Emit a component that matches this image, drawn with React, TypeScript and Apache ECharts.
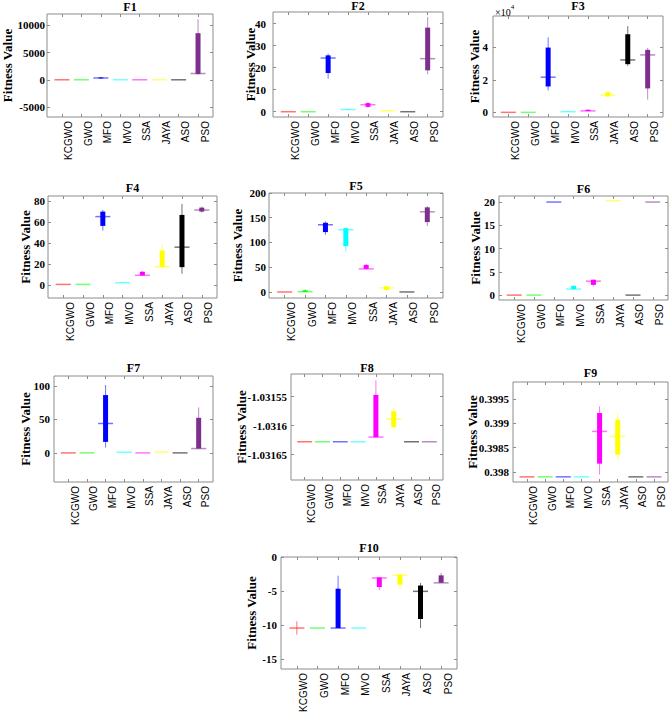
import React, { useEffect, useRef } from "react";
import * as echarts from "echarts";

const categories = ["KCGWO", "GWO", "MFO", "MVO", "SSA", "JAYA", "ASO", "PSO"];
const colors = ["#ff0000", "#00ff00", "#0000ff", "#00ffff", "#ff00ff", "#ffff00", "#000000", "#7e2f8e"];
const titles = ["F1", "F2", "F3", "F4", "F5", "F6", "F7", "F8", "F9", "F10"];

// [min, q1, median, q3, max] per algorithm
const f1 = [[0, 0, 0, 0, 0], [0, 0, 0, 0, 0], [180, 260, 330, 420, 520], [0, 0, 0, 0, 0], [0, 0, 0, 0, 0], [0, 0, 0, 0, 0], [0, 0, 0, 0, 0], [950, 1050, 1150, 8550, 11100]];
const f2 = [[0, 0, 0, 0, 0], [0, 0, 0, 0, 0], [15, 17.6, 24.4, 25.6, 26.4], [0.9, 1.0, 1.0, 1.1, 1.2], [1.8, 2.2, 3.2, 3.9, 4.4], [0.4, 0.45, 0.45, 0.5, 0.5], [0, 0, 0, 0, 0], [17, 18.8, 24.1, 38.2, 43]];
const f3 = [[0, 0, 0, 0, 0], [0, 0, 0, 0, 0], [13500, 15900, 21600, 39800, 46100], [300, 350, 400, 450, 500], [600, 800, 900, 1600, 1800], [9400, 9800, 10600, 12400, 13000], [28600, 29600, 32200, 48000, 53000], [7800, 14700, 35300, 38400, 39600]];
const f4 = [[0.5, 0.6, 0.6, 0.6, 0.7], [0.5, 0.6, 0.6, 0.6, 0.7], [52, 56.5, 65.4, 70.2, 71.7], [2, 2.1, 2.2, 2.3, 2.4], [9, 9.2, 9.3, 12.7, 13.6], [17.2, 17.4, 17.5, 33, 38.4], [10.8, 17.1, 36.2, 67, 77.5], [69.2, 70.2, 71.7, 74, 75]];
const f5 = [[0, 0, 0, 0, 0], [0, 0.2, 0.5, 3.5, 5.5], [115.5, 121, 135.8, 139.9, 142.6], [81.8, 92.6, 125.7, 129, 130.4], [46, 46.6, 46.6, 54.7, 56.8], [2.7, 4, 8.1, 11.5, 12.8], [0, 0, 0, 0, 0], [133, 141.2, 162, 171, 173.6]];
const f6 = [[0, 0, 0, 0, 0], [0, 0, 0, 0, 0], [20, 20, 20, 20, 20], [1.2, 1.3, 1.3, 2.0, 2.1], [1.9, 2.2, 3.0, 3.3, 3.4], [20.3, 20.3, 20.3, 20.3, 20.3], [0, 0, 0, 0, 0], [20, 20, 20, 20, 20]];
const f7 = [[0, 0, 0, 0, 0], [0, 0, 0, 0, 0], [8, 16.5, 44, 86.5, 101.5], [1, 1, 1, 1, 1], [0, 0, 0, 0, 0], [1.5, 1.5, 1.5, 1.5, 1.5], [0, 0, 0, 0, 0], [6.5, 6.5, 6.5, 52.5, 68]];
const f8 = [[-1.031628, -1.031628, -1.031628, -1.031628, -1.031628], [-1.031628, -1.031628, -1.031628, -1.031628, -1.031628], [-1.031628, -1.031628, -1.031628, -1.031628, -1.031628], [-1.031628, -1.031628, -1.031628, -1.031628, -1.031628], [-1.03162, -1.03162, -1.03162, -1.031547, -1.031522], [-1.031606, -1.031603, -1.031589, -1.031575, -1.03157], [-1.031628, -1.031628, -1.031628, -1.031628, -1.031628], [-1.031628, -1.031628, -1.031628, -1.031628, -1.031628]];
const f9 = [[0.3979, 0.3979, 0.3979, 0.3979, 0.3979], [0.3979, 0.3979, 0.3979, 0.3979, 0.3979], [0.3979, 0.3979, 0.3979, 0.3979, 0.3979], [0.3979, 0.3979, 0.3979, 0.3979, 0.3979], [0.397945, 0.398171, 0.398834, 0.399212, 0.399348], [0.398239, 0.398356, 0.398732, 0.399075, 0.399212], [0.3979, 0.3979, 0.3979, 0.3979, 0.3979], [0.3979, 0.3979, 0.3979, 0.3979, 0.3979]];
const f10 = [[-11.42, -10.45, -10.45, -10.45, -9.46], [-10.45, -10.45, -10.45, -10.45, -10.45], [-10.45, -10.45, -10.45, -4.66, -2.75], [-10.45, -10.45, -10.45, -10.45, -10.45], [-4.9, -4.41, -3.09, -3.0, -2.94], [-4.7, -4.07, -2.7, -2.6, -2.35], [-10.44, -9.12, -5.05, -4.2, -3.82], [-3.82, -3.78, -3.8, -2.7, -2.35]];
const allStats = [f1, f2, f3, f4, f5, f6, f7, f8, f9, f10];

const yTicks = [
  [-5000, 0, 5000, 10000],
  [0, 10, 20, 30, 40],
  [0, 20000, 40000],
  [0, 20, 40, 60, 80],
  [0, 50, 100, 150, 200],
  [0, 5, 10, 15, 20],
  [0, 50, 100],
  [-1.03165, -1.0316, -1.03155],
  [0.398, 0.3985, 0.399, 0.3995],
  [-15, -10, -5, 0],
];
const yRanges = [
  [-6830, 12070],
  [-2.4, 45.3],
  [-2860, 59200],
  [-12.4, 85.1],
  [-12.2, 200],
  [-1.05, 21.3],
  [-43.5, 115],
  [-1.031694, -1.031511],
  [0.397794, 0.39985],
  [-16.47, 0],
];
const yScaleDiv = [1, 1, 10000, 1, 1, 1, 1, 1, 1, 1];

// layout of each panel (pixels)
const layout = [
  { left: 47, top: 14, width: 166, height: 103, margin: 2, nameX: 7, titleY: 7 },
  { left: 273, top: 12, width: 170, height: 105, margin: 7, nameX: 250, titleY: 6 },
  { left: 493, top: 16, width: 170, height: 101, margin: 5, nameX: 474, titleY: 6 },
  { left: 48, top: 196, width: 169, height: 102, margin: 3, nameX: 25, titleY: 188 },
  { left: 269, top: 193, width: 174, height: 105, margin: 3, nameX: 237, titleY: 186 },
  { left: 499, top: 196, width: 169, height: 104, margin: 4, nameX: 475, titleY: 189 },
  { left: 54, top: 376, width: 159, height: 106, margin: 4, nameX: 25, titleY: 368 },
  { left: 291, top: 374, width: 152, height: 106, margin: 4, nameX: 241, titleY: 368 },
  { left: 513, top: 382, width: 155, height: 100, margin: 4, nameX: 472, titleY: 373 },
  { left: 281, top: 557, width: 176, height: 112, margin: 4, nameX: 251, titleY: 548 },
];

const X_MIN = -0.77;
const X_MAX = 7.77;
const SERIF = "Liberation Serif";
const SANS = "Liberation Sans";
const FRAME = "#8c8c8c";

function fmt(v: number, div: number) {
  return String(parseFloat((v / div).toPrecision(8)));
}

function buildOption() {
  const grid: any[] = [];
  const xAxis: any[] = [];
  const yAxis: any[] = [];
  const series: any[] = [];
  const graphic: any[] = [];
  const xIdx = categories.map((_, i) => i);

  layout.forEach((L, p) => {
    grid.push({
      left: L.left, top: L.top, width: L.width, height: L.height,
      show: true, borderColor: FRAME, borderWidth: 1, backgroundColor: "#fff",
      outerBoundsMode: "none",
    });
    const shift = (7 * (X_MAX - X_MIN)) / L.width;
    const tickCommon = { show: true, inside: true, length: 3, lineStyle: { color: FRAME, width: 1 } };
    const noLine = { show: false, onZero: false };
    xAxis.push({
      type: "value", gridIndex: p, min: X_MIN, max: X_MAX, position: "bottom",
      axisLine: noLine, splitLine: { show: false },
      axisTick: { ...tickCommon, customValues: xIdx },
      axisLabel: {
        rotate: 90, margin: 4, fontFamily: SANS, fontSize: 10, color: "#000",
        customValues: xIdx.map((i) => i + shift),
        formatter: (v: number) => categories[Math.round(v - shift)] ?? "",
      },
    });
    xAxis.push({
      type: "value", gridIndex: p, min: X_MIN, max: X_MAX, position: "top",
      axisLine: noLine, splitLine: { show: false },
      axisTick: { ...tickCommon, customValues: xIdx }, axisLabel: { show: false },
    });
    const [ymin, ymax] = yRanges[p];
    const div = yScaleDiv[p];
    yAxis.push({
      type: "value", gridIndex: p, min: ymin, max: ymax, position: "left",
      axisLine: noLine, splitLine: { show: false },
      axisTick: { ...tickCommon, customValues: yTicks[p] },
      axisLabel: {
        margin: L.margin, fontFamily: SERIF, fontWeight: "bold", fontSize: 11, color: "#000",
        customValues: yTicks[p], formatter: (v: number) => fmt(v, div),
      },
    });
    yAxis.push({
      type: "value", gridIndex: p, min: ymin, max: ymax, position: "right",
      axisLine: noLine, splitLine: { show: false },
      axisTick: { ...tickCommon, customValues: yTicks[p] }, axisLabel: { show: false },
    });

    series.push({
      type: "custom",
      coordinateSystem: "cartesian2d",
      xAxisIndex: 2 * p,
      yAxisIndex: 2 * p,
      encode: { x: 0, y: [1, 2, 3, 4, 5] },
      data: allStats[p].map((s, i) => [i, ...s]),
      renderItem: (params: any, api: any) => {
        const i = api.value(0);
        const vMin = api.value(1), q1 = api.value(2), med = api.value(3), q3 = api.value(4), vMax = api.value(5);
        const pMin = api.coord([i, vMin]);
        const pMax = api.coord([i, vMax]);
        const pQ1 = api.coord([i, q1]);
        const pQ3 = api.coord([i, q3]);
        const pMed = api.coord([i, med]);
        const cx = pMin[0];
        const color = colors[i];
        return {
          type: "group",
          children: [
            { type: "line", shape: { x1: cx, y1: pMin[1], x2: cx, y2: pMax[1] }, style: { stroke: color, lineWidth: 1, opacity: 0.55 } },
            { type: "line", shape: { x1: cx - 7.5, y1: pMed[1], x2: cx + 7.5, y2: pMed[1] }, style: { stroke: color, lineWidth: 1.5, opacity: 0.55 } },
            { type: "rect", shape: { x: cx - 2.5, y: pQ3[1], width: 5, height: Math.max(pQ1[1] - pQ3[1], 0) }, style: { fill: color } },
          ],
        };
      },
    });

    graphic.push({
      type: "text", x: L.left + L.width / 2, y: L.titleY,
      style: { text: titles[p], fontFamily: SERIF, fontWeight: "bold", fontSize: 12, fill: "#000", align: "center", verticalAlign: "middle" },
    });
    graphic.push({
      type: "text", x: L.nameX, y: L.top + L.height / 2, rotation: Math.PI / 2,
      style: { text: "Fitness Value", fontFamily: SERIF, fontWeight: "bold", fontSize: 13, fill: "#000", align: "center", verticalAlign: "middle" },
    });
  });

  graphic.push({
    type: "text", x: 495, y: 10,
    style: {
      text: "{a|×10}{b|4}", verticalAlign: "middle",
      rich: {
        a: { fontFamily: SERIF, fontSize: 10, fill: "#000", verticalAlign: "bottom", lineHeight: 14 },
        b: { fontFamily: SERIF, fontSize: 7, fill: "#000", verticalAlign: "top", lineHeight: 14 },
      },
    },
  });

  return { animation: false, backgroundColor: "#fff", grid, xAxis, yAxis, series, graphic };
}

export default function App() {
  const ref = useRef<HTMLDivElement>(null);
  useEffect(() => {
    if (!ref.current) return;
    const chart = echarts.init(ref.current, undefined, { renderer: "svg" });
    chart.setOption(buildOption() as any);
    return () => chart.dispose();
  }, []);
  return <div ref={ref} style={{ position: "absolute", left: 0, top: 0, width: 669, height: 719, background: "#fff" }} />;
}
